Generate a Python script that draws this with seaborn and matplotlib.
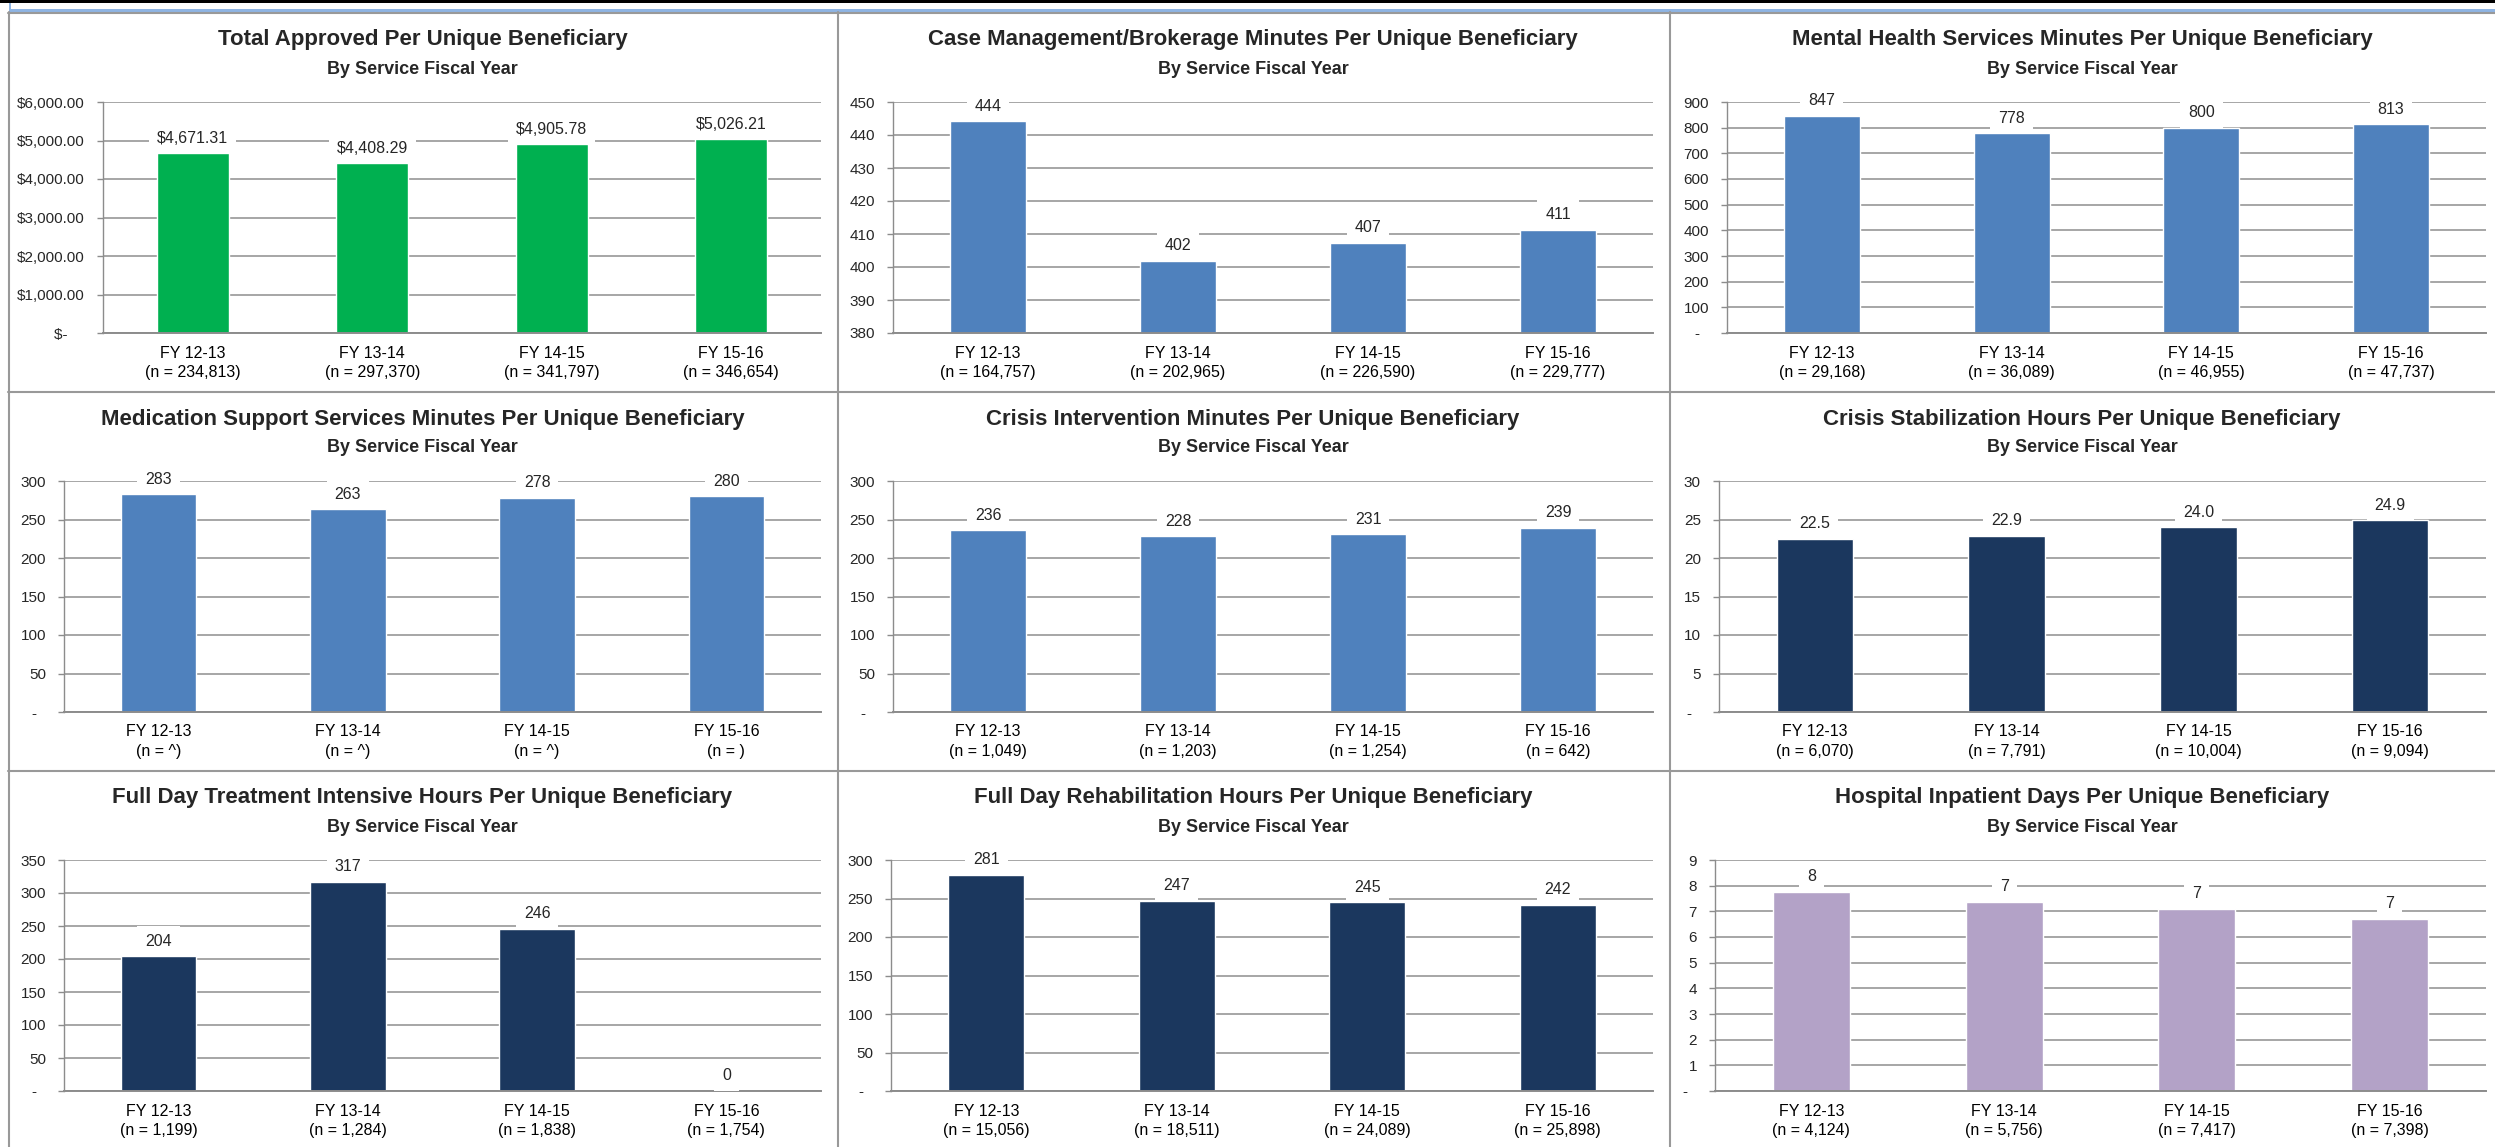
import matplotlib
matplotlib.use("Agg")
import matplotlib.pyplot as plt
import seaborn as sns
from matplotlib.patches import Rectangle
from matplotlib.lines import Line2D

# Canvas size in pixels (dpi 100)
W, H = 2495, 1147

fiscal_years = ["FY 12-13", "FY 13-14", "FY 14-15", "FY 15-16"]
subtitle = "By Service Fiscal Year"

titles = [
    "Total Approved Per Unique Beneficiary",
    "Case Management/Brokerage Minutes Per Unique Beneficiary",
    "Mental Health Services Minutes Per Unique Beneficiary",
    "Medication Support Services Minutes Per Unique Beneficiary",
    "Crisis Intervention Minutes Per Unique Beneficiary",
    "Crisis Stabilization Hours Per Unique Beneficiary",
    "Full Day Treatment Intensive Hours Per Unique Beneficiary",
    "Full Day Rehabilitation Hours Per Unique Beneficiary",
    "Hospital Inpatient Days Per Unique Beneficiary",
]

# values per panel
total_approved = [4671.31, 4408.29, 4905.78, 5026.21]
case_mgmt_min = [444.1, 401.9, 407.3, 411.3]
mental_health_min = [847, 778, 800, 813]
medication_min = [283, 263, 278, 280]
crisis_interv_min = [236, 228, 231, 239]
crisis_stab_hours = [22.5, 22.9, 24.0, 24.9]
day_treatment_hours = [204, 317, 246, 0]
day_rehab_hours = [281, 247, 245, 242]
inpatient_days = [7.77, 7.38, 7.11, 6.72]

# beneficiary counts shown under each fiscal year
n_total = ["234,813", "297,370", "341,797", "346,654"]
n_case_mgmt = ["164,757", "202,965", "226,590", "229,777"]
n_mental_health = ["29,168", "36,089", "46,955", "47,737"]
n_medication = ["^", "^", "^", ""]
n_crisis_interv = ["1,049", "1,203", "1,254", "642"]
n_crisis_stab = ["6,070", "7,791", "10,004", "9,094"]
n_day_treatment = ["1,199", "1,284", "1,838", "1,754"]
n_day_rehab = ["15,056", "18,511", "24,089", "25,898"]
n_inpatient = ["4,124", "5,756", "7,417", "7,398"]

# y axis ranges (min, max, step)
y_ranges = [(0, 6000, 1000), (380, 450, 10), (0, 900, 100),
            (0, 300, 50), (0, 300, 50), (0, 30, 5),
            (0, 350, 50), (0, 300, 50), (0, 9, 1)]

GREEN = "#00B050"
BLUE = "#4F81BD"
NAVY = "#1B375E"
PURPLE = "#B3A2C7"

panels = [
    (total_approved, n_total, GREEN, "money"),
    (case_mgmt_min, n_case_mgmt, BLUE, "int"),
    (mental_health_min, n_mental_health, BLUE, "int"),
    (medication_min, n_medication, BLUE, "int"),
    (crisis_interv_min, n_crisis_interv, BLUE, "int"),
    (crisis_stab_hours, n_crisis_stab, NAVY, "one"),
    (day_treatment_hours, n_day_treatment, NAVY, "int"),
    (day_rehab_hours, n_day_rehab, NAVY, "int"),
    (inpatient_days, n_inpatient, PURPLE, "int"),
]

# plot area horizontal extent for each panel, pixels
plot_x = [(103, 821), (893, 1653), (1727, 2486),
          (64, 821), (893, 1653), (1719, 2486),
          (64, 821), (891, 1653), (1715, 2486)]
row_tops = [12, 391, 770]
col_bounds = [8, 837, 1669, W]

GRID = "#A6A6A6"
AXIS = "#8C8C8C"

sns.set_theme(style="white")
plt.rcParams['font.family'] = ['Liberation Sans', 'DejaVu Sans']

fig = plt.figure(figsize=(W / 100, H / 100), dpi=100)
fig.patch.set_facecolor("white")

# background frame drawn in pixel coordinates
bg = fig.add_axes([0, 0, 1, 1], zorder=-1)
bg.set_xlim(0, W)
bg.set_ylim(H, 0)
bg.axis("off")
bg.add_patch(Rectangle((0, 0), W, 2.7, color="black", lw=0))
bg.add_patch(Rectangle((9, 8.8), W - 9, 3, color="#8EB4E3", lw=0))
bg.add_patch(Rectangle((9, 2.7), 2.4, 9, color="#8EB4E3", lw=0))
for yt in row_tops:
    bg.add_line(Line2D([8, W], [yt + 0.5, yt + 0.5], color="#999999", lw=1.5))
for xc in col_bounds[:3]:
    bg.add_line(Line2D([xc + 0.5, xc + 0.5], [12, H], color="#999999", lw=1.5))


def tick_text(v, kind):
    if v == 0:
        return "$-    " if kind == "money" else "-  "
    if kind == "money":
        return f"${v:,.2f}"
    return f"{v:,.0f}"


def bar_text(v, kind):
    if kind == "money":
        return f"${v:,.2f}"
    if kind == "one":
        return f"{v:.1f}"
    return f"{v:,.0f}"


for i, (vals, ns, col, kind) in enumerate(panels):
    r, c = divmod(i, 3)
    left, right = plot_x[i]
    top = row_tops[r] + 90
    bottom = row_tops[r] + 321
    ax = fig.add_axes([left / W, 1 - bottom / H, (right - left) / W, (bottom - top) / H])

    sns.barplot(x=fiscal_years, y=vals, color=col, width=0.4, saturation=1, ax=ax)

    lo, hi, step = y_ranges[i]
    ticks = list(range(lo, hi + 1, step))
    ax.set_ylim(lo, hi)
    ax.set_yticks(ticks)
    ax.set_yticklabels([tick_text(t, kind) for t in ticks])
    ax.set_xlim(-0.5, 3.5)

    ax.grid(axis="y", color=GRID, lw=1.4)
    ax.grid(axis="x", visible=False)
    ax.set_axisbelow(True)
    for s in ["top", "right"]:
        ax.spines[s].set_visible(False)
    ax.spines["left"].set_color(AXIS)
    ax.spines["left"].set_linewidth(1.0)
    ax.spines["bottom"].set_color(AXIS)
    ax.spines["bottom"].set_linewidth(1.4)

    ax.set_xticks(range(4))
    ax.set_xticklabels([f"{fy}\n(n = {n})" for fy, n in zip(fiscal_years, ns)],
                       linespacing=1.4)
    ax.set_xticks([-0.5, 0.5, 1.5, 2.5, 3.5], minor=True)
    ax.tick_params(axis="x", which="major", length=0, pad=9, labelsize=11.5, colors="black")
    ax.tick_params(axis="x", which="minor", length=4, width=1, color=AXIS, direction="out")
    ax.tick_params(axis="y", length=4, width=1, color=AXIS, pad=9, labelsize=11,
                   direction="out", left=True)
    ax.set_xlabel("")
    ax.set_ylabel("")

    for x, v in enumerate(vals):
        ax.annotate(bar_text(v, kind), (x, v), xytext=(0, 15), textcoords="offset pixels",
                    ha="center", va="center", fontsize=11.5, annotation_clip=False,
                    bbox=dict(boxstyle="square,pad=0.5", fc="white", ec="none"))

    cx = (col_bounds[c] + col_bounds[c + 1]) / 2
    fig.text(cx / W, 1 - (row_tops[r] + 28) / H, titles[i], ha="center", va="center",
             fontsize=16, fontweight="bold")
    fig.text(cx / W, 1 - (row_tops[r] + 57) / H, subtitle, ha="center", va="center",
             fontsize=13, fontweight="bold")

fig.savefig("out.png", dpi=100, facecolor="white")
